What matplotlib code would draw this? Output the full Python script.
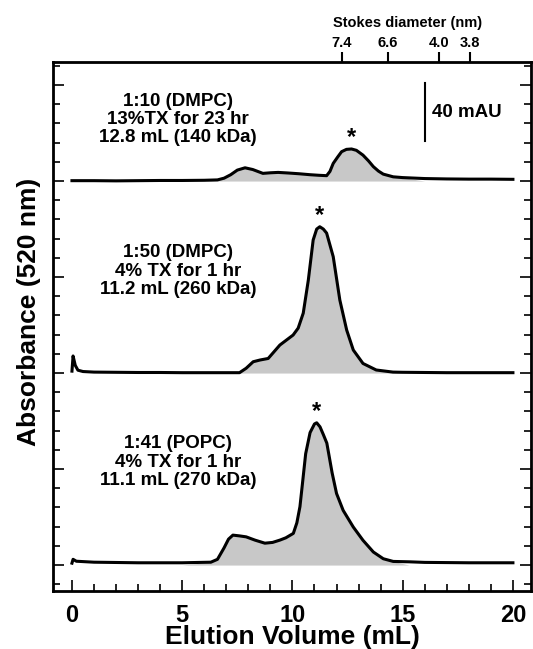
import numpy as np
import matplotlib
matplotlib.use('Agg')
import matplotlib.pyplot as plt
from matplotlib.ticker import MultipleLocator

plt.rcParams['font.family'] = ['Liberation Sans', 'DejaVu Sans']
plt.rcParams['font.weight'] = 'bold'
plt.rcParams['axes.labelweight'] = 'bold'

# elution volume (mL) and absorbance (1 unit = one minor tick, 3 units = 40 mAU)
vol_1 = [0, 1, 2, 3, 4, 5, 6, 6.6, 6.9, 7.2, 7.5, 7.85, 8.2, 8.66, 9.0, 9.35, 9.8,
         10.3, 10.8, 11.2, 11.55, 11.7, 11.85, 12.05, 12.23, 12.45, 12.68, 12.9,
         13.2, 13.45, 13.67, 13.9, 14.12, 14.57, 15.0, 16, 17, 18, 19, 20]
abs_1 = [0.02, 0.02, 0.01, 0.02, 0.03, 0.03, 0.04, 0.06, 0.15, 0.33, 0.57, 0.69,
         0.6, 0.40, 0.43, 0.45, 0.42, 0.38, 0.33, 0.30, 0.28, 0.5, 0.92, 1.25,
         1.53, 1.65, 1.67, 1.6, 1.35, 1.05, 0.75, 0.52, 0.36, 0.22, 0.18, 0.13,
         0.11, 0.1, 0.1, 0.09]

vol_2 = [0, 0.05, 0.15, 0.27, 0.5, 1, 2, 3, 4, 5, 6, 7, 7.6, 7.9, 8.22, 8.53,
         8.9, 9.43, 10.03, 10.26, 10.49, 10.72, 10.94, 11.1, 11.24, 11.4, 11.55,
         11.85, 12.15, 12.46, 12.76, 13.2, 13.8, 14.56, 15, 16, 17, 18, 19, 20]
abs_2 = [0.1, 0.89, 0.4, 0.15, 0.08, 0.05, 0.04, 0.03, 0.03, 0.02, 0.02, 0.02,
         0.02, 0.25, 0.59, 0.68, 0.76, 1.46, 1.98, 2.34, 3.12, 4.84, 6.93, 7.5,
         7.62, 7.5, 7.29, 6.06, 3.8, 2.24, 1.2, 0.5, 0.16, 0.05, 0.04, 0.03, 0.02,
         0.02, 0.02, 0.02]

vol_3 = [0, 0.05, 0.2, 1, 3, 5, 6.3, 6.6, 6.9, 7.1, 7.3, 7.6, 7.9, 8.3, 8.75,
         9.1, 9.43, 9.7, 10.04, 10.2, 10.34, 10.45, 10.6, 10.8, 11.0, 11.1,
         11.25, 11.4, 11.56, 11.8, 12.0, 12.3, 12.76, 13.2, 13.67, 14.12, 14.57,
         15.3, 16, 18, 20]
abs_3 = [0.1, 0.3, 0.2, 0.15, 0.12, 0.12, 0.15, 0.3, 0.9, 1.35, 1.56, 1.52, 1.47,
         1.3, 1.14, 1.18, 1.3, 1.42, 1.65, 2.2, 3.04, 4.2, 5.8, 6.9, 7.35, 7.41,
         7.2, 6.8, 6.35, 4.8, 3.73, 2.85, 1.98, 1.29, 0.68, 0.33, 0.19, 0.17,
         0.14, 0.12, 0.12]

traces = [(vol_1, abs_1), (vol_2, abs_2), (vol_3, abs_3)]
offsets = [20, 10, 0]
fill_ranges = [(6.6, 15.0), (7.6, 14.6), (6.3, 14.6)]
peak_vol = [12.68, 11.24, 11.1]
labels = ['1:10 (DMPC)\n13%TX for 23 hr\n12.8 mL (140 kDa)',
          '1:50 (DMPC)\n4% TX for 1 hr\n11.2 mL (260 kDa)',
          '1:41 (POPC)\n4% TX for 1 hr\n11.1 mL (270 kDa)']
label_y = [23.2, 15.3, 5.36]

stokes_vol = [12.25, 14.33, 16.64, 18.05]
stokes_lbl = ['7.4', '6.6', '4.0', '3.8']

fig = plt.figure(figsize=(5.33, 6.49), dpi=100)
ax = fig.add_axes([53/533, 58/649, 478/533, 529/649])

for (v, a), off, (lo, hi), pv, lab, ly in zip(traces, offsets, fill_ranges,
                                               peak_vol, labels, label_y):
    v = np.array(v)
    y = np.array(a) + off
    ax.fill_between(v, off, y, where=(v >= lo) & (v <= hi), color='#c8c8c8',
                    lw=0, interpolate=True)
    ax.plot(v, y, color='black', lw=2.2, solid_joinstyle='round')
    ax.text(pv, y.max() + 0.25, '*', ha='center', va='baseline', fontsize=17)
    ax.text(4.8, ly, lab, ha='center', va='center', fontsize=13.5,
            linespacing=1.1)

# 40 mAU scale bar
ax.plot([16.0, 16.0], [22.1, 25.1], color='black', lw=1.5)
ax.text(16.35, 23.55, '40 mAU', ha='left', va='center', fontsize=13.5)

ax.set_xlim(-0.86, 20.82)
ax.set_ylim(-1.35, 26.2)
ax.xaxis.set_major_locator(MultipleLocator(5))
ax.xaxis.set_minor_locator(MultipleLocator(1))
ax.yaxis.set_major_locator(MultipleLocator(5))
ax.yaxis.set_minor_locator(MultipleLocator(1))
ax.tick_params(which='both', direction='in', top=True, right=True, width=1.2)
ax.tick_params(which='major', length=8)
ax.tick_params(which='minor', length=5)
ax.tick_params(axis='x', labelsize=17, pad=9)
ax.set_yticklabels([])
for s in ax.spines.values():
    s.set_linewidth(2)
ax.set_xlabel('Elution Volume (mL)', fontsize=19, labelpad=-1)
ax.set_ylabel('Absorbance (520 nm)', fontsize=19, labelpad=5)
ax.yaxis.label.set_y(0.528)

top = ax.twiny()
top.set_xlim(ax.get_xlim())
top.set_xticks(stokes_vol)
top.set_xticklabels(stokes_lbl)
top.xaxis.set_minor_locator(plt.NullLocator())
top.tick_params(axis='x', direction='out', length=7.5, width=1.5,
                labelsize=10.5, pad=1)
ax.text(15.2, 1.06, 'Stokes diameter (nm)', transform=ax.get_xaxis_transform(),
        ha='center', va='bottom', fontsize=10.5)

fig.savefig('out.png', dpi=100)
